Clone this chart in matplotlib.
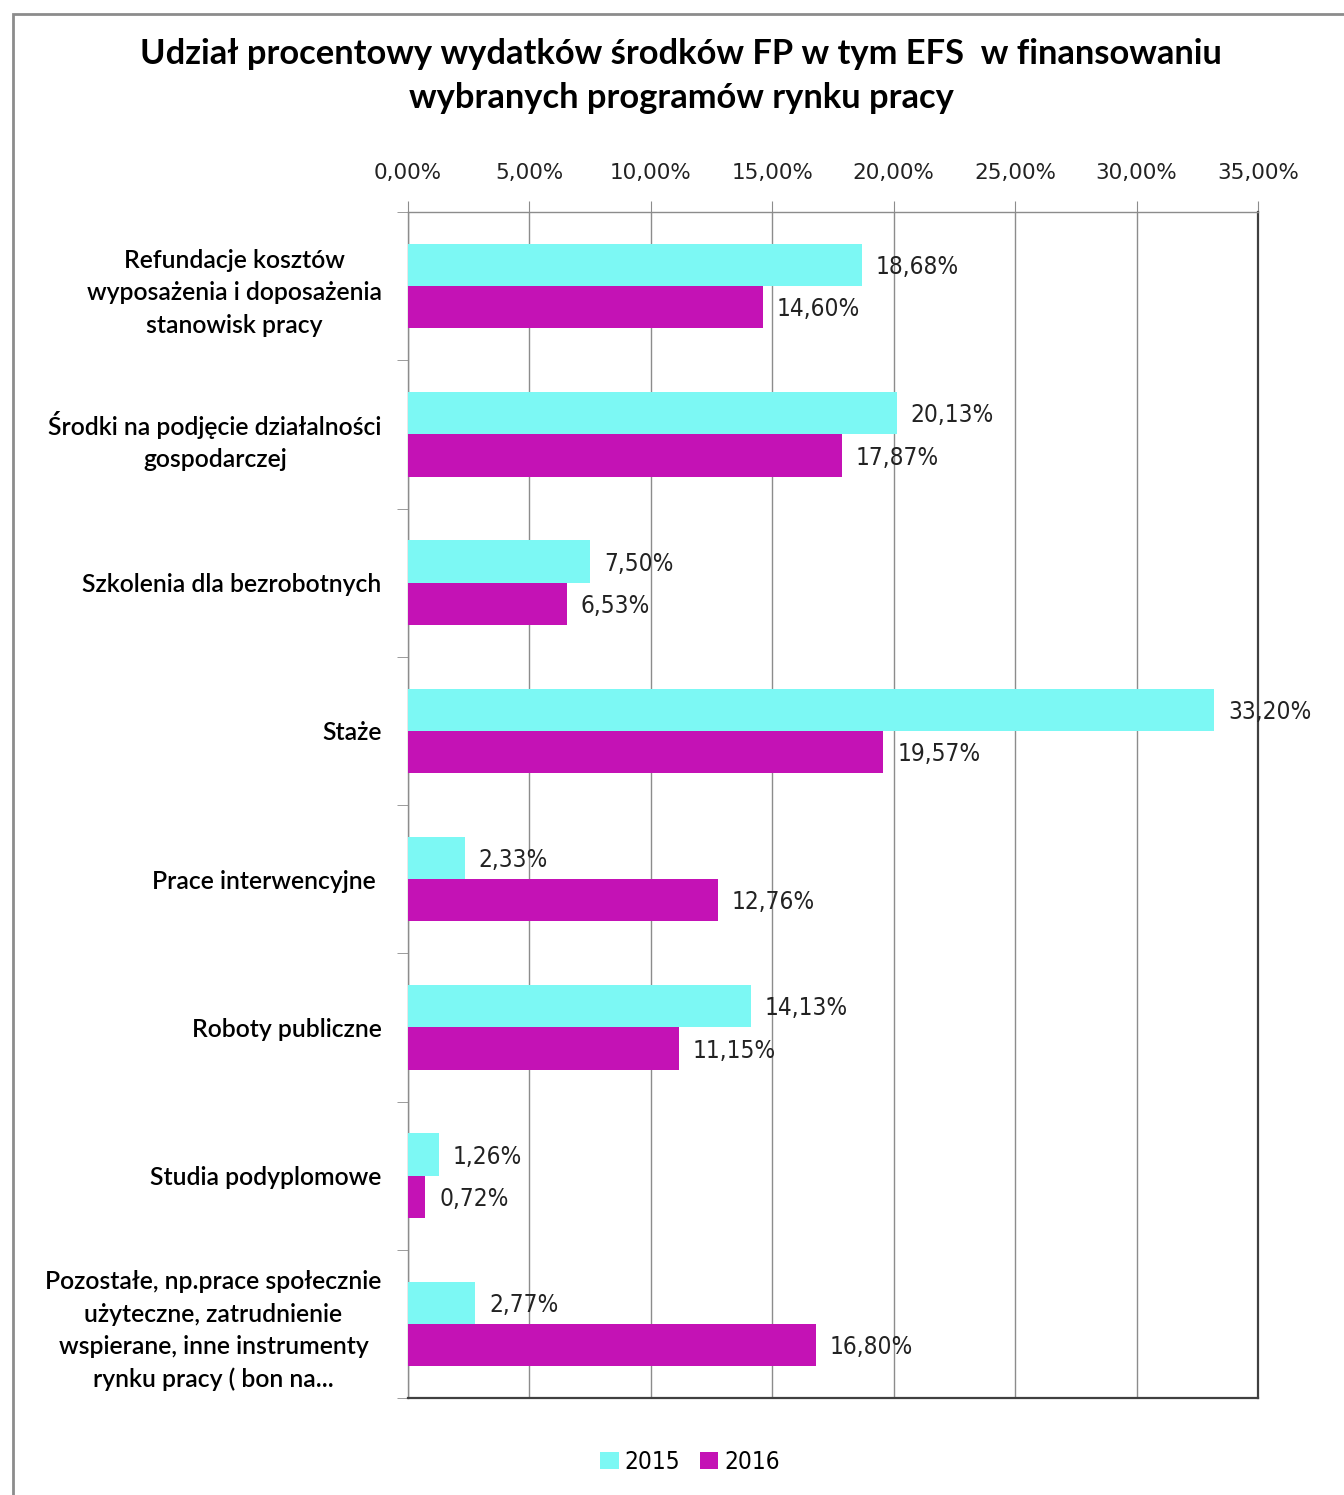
import numpy as np
import matplotlib
matplotlib.use("Agg")
import matplotlib.pyplot as plt
from matplotlib.patches import Rectangle
from matplotlib.ticker import FuncFormatter, FixedLocator

categories = [
    "Refundacje kosztów\nwyposażenia i doposażenia\nstanowisk pracy",
    "Środki na podjęcie działalności\ngospodarczej",
    "Szkolenia dla bezrobotnych",
    "Staże",
    "Prace interwencyjne ",
    "Roboty publiczne",
    "Studia podyplomowe",
    "Pozostałe, np.prace społecznie\nużyteczne, zatrudnienie\nwspierane, inne instrumenty\nrynku pracy ( bon na...",
]
v2015 = [18.68, 20.13, 7.50, 33.20, 2.33, 14.13, 1.26, 2.77]
v2016 = [14.60, 17.87, 6.53, 19.57, 12.76, 11.15, 0.72, 16.80]
series_names = ["2015", "2016"]
colors = ["#7cf8f4", "#c412b5"]

title = "Udział procentowy wydatków środków FP w tym EFS  w finansowaniu\nwybranych programów rynku pracy"

narrow = ["DejaVu Sans"]
label_font = ["Lato", "DejaVu Sans"]

fig = plt.figure(figsize=(13.44, 14.95), dpi=100)
ax = fig.add_axes([408 / 1344, 1 - 1398 / 1495, 850 / 1344, (1398 - 212) / 1495])

y = np.arange(len(categories))
h = 0.285
b1 = ax.barh(y - h / 2, v2015, height=h, color=colors[0], label=series_names[0], zorder=3)
b2 = ax.barh(y + h / 2, v2016, height=h, color=colors[1], label=series_names[1], zorder=3)

for bars, vals in ((b1, v2015), (b2, v2016)):
    for bar, v in zip(bars, vals):
        ax.annotate(f"{v:.2f}%".replace(".", ","),
                    xy=(v, bar.get_y() + bar.get_height() / 2),
                    xytext=(10, -1.5), textcoords="offset points",
                    ha="left", va="center", fontsize=17.5, family=narrow,
                    fontstretch="condensed", color="#222222", zorder=4)

ax.set_xlim(0, 35)
ax.set_ylim(len(categories) - 0.5, -0.5)
ax.xaxis.tick_top()
ax.set_xticks(np.arange(0, 36, 5))
ax.xaxis.set_major_formatter(FuncFormatter(lambda x, _: f"{x:.2f}%".replace(".", ",")))
ax.tick_params(axis="x", which="major", length=8, color="#8c8c8c", pad=13,
               labelsize=15.5, labelcolor="#222222")
ax.grid(axis="x", color="#8c8c8c", linewidth=1, zorder=0)

ax.set_yticks(y)
ax.set_yticklabels(categories, fontsize=17.8, family=label_font, fontweight="semibold",
                   multialignment="center", linespacing=1.5)
ax.tick_params(axis="y", which="major", length=0, pad=19)
ax.yaxis.set_minor_locator(FixedLocator(np.arange(-0.5, len(categories) + 0.5, 1)))
ax.tick_params(axis="y", which="minor", length=8, color="#8c8c8c")

for s in ("left", "top"):
    ax.spines[s].set_color("#8c8c8c")
    ax.spines[s].set_linewidth(1)
for s in ("right", "bottom"):
    ax.spines[s].set_color("#404040")
    ax.spines[s].set_linewidth(1.6)

fig.text(681 / 1344, 1 - 76 / 1495, title, ha="center", va="center",
         fontsize=24.8, fontweight="bold", family=label_font, linespacing=1.5)

fig.legend(loc="center", bbox_to_anchor=(690 / 1344, 1 - 1462 / 1495), ncol=2,
           frameon=False, handlelength=0.75, handleheight=0.75, handletextpad=0.25,
           columnspacing=0.8, prop={"family": narrow, "size": 17.5, "stretch": "condensed"})

fig.add_artist(Rectangle((13 / 1344, -0.05), 1.2, 1.05 - 14 / 1495,
                         transform=fig.transFigure, fill=False,
                         edgecolor="#8c8c8c", linewidth=2))

fig.savefig("out.png", dpi=100)
